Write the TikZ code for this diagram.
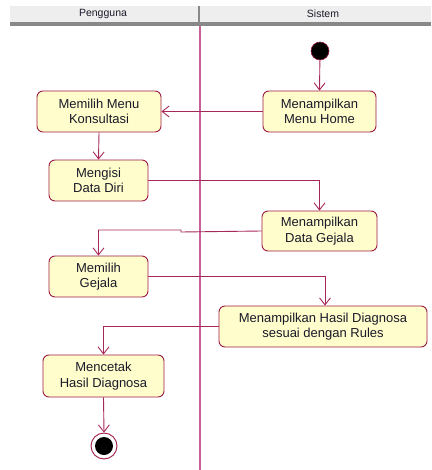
\documentclass[tikz,border=0pt]{standalone}
\usepackage{fontspec}
\setmainfont{Liberation Sans}
\usetikzlibrary{arrows.meta,calc}
\definecolor{conn}{HTML}{A8275A}
\definecolor{boxline}{HTML}{9E1B45}
\definecolor{boxfill}{HTML}{FFFDCB}
\definecolor{lane}{HTML}{C8609A}
\definecolor{hdrfill}{HTML}{EEEEEE}
\definecolor{hdrbar}{HTML}{888888}
\definecolor{txt}{HTML}{1A1A2A}
\tikzset{
  act/.style={draw=boxline, line width=0.9pt, fill=boxfill, rounded corners=6pt,
    align=center, text=txt, font=\fontsize{13}{15.5}\selectfont, inner sep=0pt},
  flow/.style={draw=conn, line width=0.9pt, -{Straight Barb[length=7pt,width=11pt,line width=0.9pt]}},
  hdrtext/.style={font=\fontsize{10.5}{12}\selectfont, text=txt}
}
\begin{document}
\begin{tikzpicture}[x=1pt,y=-1pt]
\useasboundingbox (0,0) rectangle (431,470);
% header
\fill[hdrfill] (10,6) rectangle (431,22);
\fill[hdrbar] (10,22) rectangle (431,26);
\draw[hdrbar, line width=1.6pt] (199,6) -- (199,26);
\node[hdrtext] (hp) at (103,14) {Pengguna};
\node[hdrtext] (hs) at (323,14) {Sistem};
% lane line
\draw[lane, line width=1.2pt] (200,26) -- (200,470);
% nodes
\node[act, minimum width=113pt, minimum height=41pt] (home) at (319.5,111.5) {Menampilkan\\Menu Home};
\node[act, minimum width=124pt, minimum height=41pt] (kons) at (99,111.5) {Memilih Menu\\Konsultasi};
\node[act, minimum width=99pt, minimum height=41pt] (diri) at (98.5,180.5) {Mengisi\\Data Diri};
\node[act, minimum width=115pt, minimum height=40pt] (dgej) at (319.5,231) {Menampilkan\\Data Gejala};
\node[act, minimum width=99pt, minimum height=41pt] (pilih) at (98.5,276.5) {Memilih\\Gejala};
\node[act, minimum width=208pt, minimum height=41pt] (hasil) at (323,326.5) {Menampilkan Hasil Diagnosa\\sesuai dengan Rules};
\node[act, minimum width=121pt, minimum height=42pt] (cetak) at (103.5,376) {Mencetak\\Hasil Diagnosa};
\node[circle, fill=black, draw=boxline, line width=0.6pt, minimum size=18pt, inner sep=0pt] (init) at (320,51) {};
\node[circle, draw=boxline, line width=0.9pt, fill=white, minimum size=26pt, inner sep=0pt] (fin) at (104,446) {};
\node[circle, fill=black, minimum size=18pt, inner sep=0pt] (finin) at (fin.center) {};
% connectors
\draw[flow] (init) -- (home.north);
\draw[flow] (home.west) -- (kons.east);
\draw[flow] (kons.south) -- (diri.north);
\draw[flow] (diri.east) -| (dgej.north);
\coordinate (j1) at (181,232);
\coordinate (j2) at (181,230);
\draw[flow] (dgej.west) -- (j1) -- (j2) -| (pilih.north);
\draw[flow] (pilih.east) -| ([xshift=2pt]hasil.north);
\draw[flow] (hasil.west) -| (cetak.north);
\draw[flow] (cetak.south) -- (fin.north);
\end{tikzpicture}
\end{document}
